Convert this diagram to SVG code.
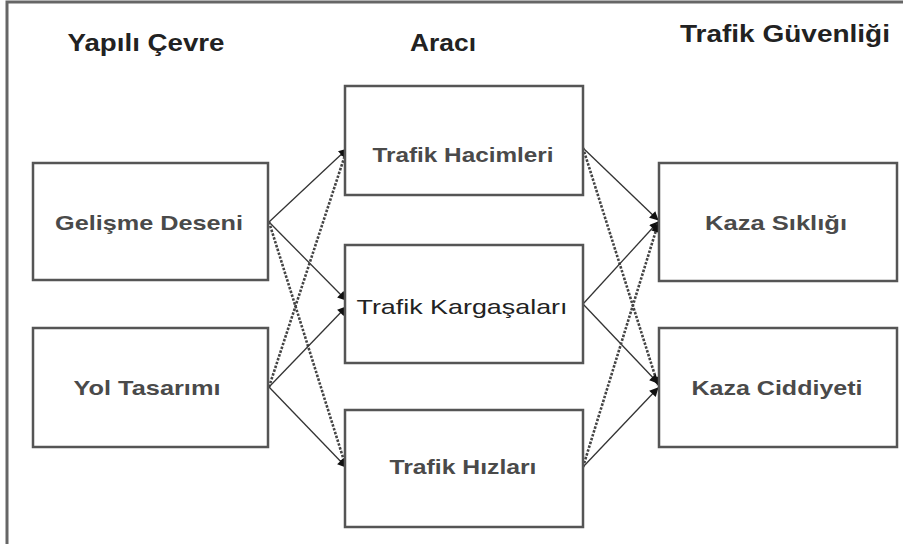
<svg xmlns="http://www.w3.org/2000/svg" width="903" height="544" viewBox="0 0 903 544">
<style>
.box{fill:#fff;stroke:#555;stroke-width:2.5}
.lbl{font-family:"Liberation Sans",Arial,sans-serif;font-size:21px;font-weight:bold;fill:#4a4a4a;text-anchor:middle}
.ttl{font-family:"Liberation Sans",Arial,sans-serif;font-size:23px;font-weight:bold;fill:#222;text-anchor:middle}
.solid{stroke:#333;stroke-width:1.3;fill:none}
.dash{stroke:#444;stroke-width:2.6;stroke-dasharray:2.5 1.5;fill:none}
</style>
<defs>
<marker id="ah" viewBox="0 0 10 10" refX="9" refY="5" markerWidth="10" markerHeight="9" markerUnits="userSpaceOnUse" orient="auto">
<path d="M0,0 L10,5 L0,10 z" fill="#111"/>
</marker>
</defs>
<rect width="903" height="544" fill="#fff"/>
<path d="M7,544 V2 H903" fill="none" stroke="#666" stroke-width="3"/>
<g id="titles">
<text class="ttl" x="146" y="51" textLength="157" lengthAdjust="spacingAndGlyphs">Yapılı Çevre</text>
<text class="ttl" x="443" y="51" textLength="66" lengthAdjust="spacingAndGlyphs">Aracı</text>
<text class="ttl" x="785" y="42" textLength="210" lengthAdjust="spacingAndGlyphs">Trafik Güvenliği</text>
</g>
<g id="connectors">
<line class="solid" x1="269" y1="222" x2="347" y2="149" marker-end="url(#ah)"/>
<line class="solid" x1="269" y1="222" x2="346" y2="300" marker-end="url(#ah)"/>
<line class="dash" x1="269" y1="222" x2="346" y2="467" marker-end="url(#ah)"/>
<line class="dash" x1="269" y1="387" x2="347" y2="149" marker-end="url(#ah)"/>
<line class="solid" x1="269" y1="387" x2="346" y2="307" marker-end="url(#ah)"/>
<line class="solid" x1="269" y1="387" x2="346" y2="467" marker-end="url(#ah)"/>
<line class="solid" x1="583" y1="148" x2="658" y2="220" marker-end="url(#ah)"/>
<line class="dash" x1="583" y1="148" x2="658" y2="385" marker-end="url(#ah)"/>
<line class="solid" x1="583" y1="304" x2="658" y2="222" marker-end="url(#ah)"/>
<line class="solid" x1="583" y1="304" x2="658" y2="383" marker-end="url(#ah)"/>
<line class="dash" x1="583" y1="467" x2="658" y2="224" marker-end="url(#ah)"/>
<line class="solid" x1="583" y1="467" x2="658" y2="388" marker-end="url(#ah)"/>
</g>
<g id="gelisme">
<rect class="box" x="33" y="163" width="235" height="117"/>
<text class="lbl" x="149" y="230" textLength="188" lengthAdjust="spacingAndGlyphs">Gelişme Deseni</text>
</g>
<g id="yol">
<rect class="box" x="33" y="328" width="235" height="119"/>
<text class="lbl" x="147" y="395" textLength="147" lengthAdjust="spacingAndGlyphs">Yol Tasarımı</text>
</g>
<g id="hacim">
<rect class="box" x="345" y="86" width="238" height="109"/>
<text class="lbl" x="463" y="162" textLength="181" lengthAdjust="spacingAndGlyphs">Trafik Hacimleri</text>
</g>
<g id="kargasa">
<rect class="box" x="345" y="245" width="238" height="118"/>
<text class="lbl" x="462" y="314" textLength="211" lengthAdjust="spacingAndGlyphs" style="font-weight:normal;fill:#222">Trafik Kargaşaları</text>
</g>
<g id="hiz">
<rect class="box" x="345" y="410" width="238" height="117"/>
<text class="lbl" x="463" y="474" textLength="147" lengthAdjust="spacingAndGlyphs">Trafik Hızları</text>
</g>
<g id="siklik">
<rect class="box" x="659" y="163" width="238" height="118"/>
<text class="lbl" x="776" y="230" textLength="142" lengthAdjust="spacingAndGlyphs">Kaza Sıklığı</text>
</g>
<g id="ciddiyet">
<rect class="box" x="659" y="328" width="238" height="119"/>
<text class="lbl" x="777" y="395" textLength="171" lengthAdjust="spacingAndGlyphs">Kaza Ciddiyeti</text>
</g>
</svg>
